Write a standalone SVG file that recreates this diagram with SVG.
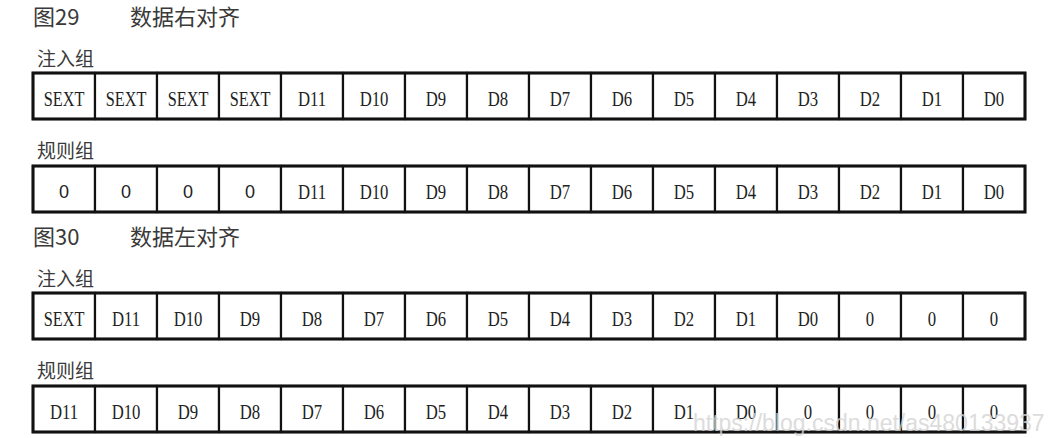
<svg xmlns="http://www.w3.org/2000/svg" width="1053" height="438" viewBox="0 0 1053 438">
<style>
.title{font-family:"Noto Sans CJK SC","Liberation Sans",sans-serif;font-size:22px;fill:#3a3a3a}
.grp{font-family:"Noto Sans CJK SC","Liberation Sans",sans-serif;font-size:19px;fill:#3a3a3a}
.cell{fill:#fff;stroke:#111;stroke-width:2.2}
.outer{fill:none;stroke:#111;stroke-width:3}
.t{font-family:"Liberation Serif",serif;font-size:22px;text-anchor:middle;fill:#222}
.s{font-family:"Liberation Sans",sans-serif;font-size:18px;text-anchor:middle;fill:#222}
.wm{font-family:"Liberation Sans",sans-serif;font-size:23px;fill:#d4d4d4;opacity:0.8}
</style>
<rect width="1053" height="438" fill="#fff"/>
<g id="fig29-title"><text class="title" x="33" y="25">图29</text><text class="title" x="130" y="25">数据右对齐</text></g>
<g id="fig29-inj-label"><text class="grp" x="37" y="66">注入组</text></g>
<g id="fig29-inj">
<rect class="cell" x="33" y="73" width="62" height="46"/><rect class="cell" x="95" y="73" width="62" height="46"/><rect class="cell" x="157" y="73" width="62" height="46"/><rect class="cell" x="219" y="73" width="62" height="46"/><rect class="cell" x="281" y="73" width="62" height="46"/><rect class="cell" x="343" y="73" width="62" height="46"/><rect class="cell" x="405" y="73" width="62" height="46"/><rect class="cell" x="467" y="73" width="62" height="46"/><rect class="cell" x="529" y="73" width="62" height="46"/><rect class="cell" x="591" y="73" width="62" height="46"/><rect class="cell" x="653" y="73" width="62" height="46"/><rect class="cell" x="715" y="73" width="62" height="46"/><rect class="cell" x="777" y="73" width="62" height="46"/><rect class="cell" x="839" y="73" width="62" height="46"/><rect class="cell" x="901" y="73" width="62" height="46"/><rect class="cell" x="963" y="73" width="62" height="46"/>
<rect class="outer" x="33" y="73" width="992" height="46"/>
<text class="t" transform="translate(64,106) scale(0.74,1)">SEXT</text>
<text class="t" transform="translate(126,106) scale(0.74,1)">SEXT</text>
<text class="t" transform="translate(188,106) scale(0.74,1)">SEXT</text>
<text class="t" transform="translate(250,106) scale(0.74,1)">SEXT</text>
<text class="t" transform="translate(312,106) scale(0.76,1)">D11</text>
<text class="t" transform="translate(374,106) scale(0.76,1)">D10</text>
<text class="t" transform="translate(436,106) scale(0.76,1)">D9</text>
<text class="t" transform="translate(498,106) scale(0.76,1)">D8</text>
<text class="t" transform="translate(560,106) scale(0.76,1)">D7</text>
<text class="t" transform="translate(622,106) scale(0.76,1)">D6</text>
<text class="t" transform="translate(684,106) scale(0.76,1)">D5</text>
<text class="t" transform="translate(746,106) scale(0.76,1)">D4</text>
<text class="t" transform="translate(808,106) scale(0.76,1)">D3</text>
<text class="t" transform="translate(870,106) scale(0.76,1)">D2</text>
<text class="t" transform="translate(932,106) scale(0.76,1)">D1</text>
<text class="t" transform="translate(994,106) scale(0.76,1)">D0</text>
</g>
<g id="fig29-reg-label"><text class="grp" x="37" y="158">规则组</text></g>
<g id="fig29-reg">
<rect class="cell" x="33" y="166" width="62" height="46"/><rect class="cell" x="95" y="166" width="62" height="46"/><rect class="cell" x="157" y="166" width="62" height="46"/><rect class="cell" x="219" y="166" width="62" height="46"/><rect class="cell" x="281" y="166" width="62" height="46"/><rect class="cell" x="343" y="166" width="62" height="46"/><rect class="cell" x="405" y="166" width="62" height="46"/><rect class="cell" x="467" y="166" width="62" height="46"/><rect class="cell" x="529" y="166" width="62" height="46"/><rect class="cell" x="591" y="166" width="62" height="46"/><rect class="cell" x="653" y="166" width="62" height="46"/><rect class="cell" x="715" y="166" width="62" height="46"/><rect class="cell" x="777" y="166" width="62" height="46"/><rect class="cell" x="839" y="166" width="62" height="46"/><rect class="cell" x="901" y="166" width="62" height="46"/><rect class="cell" x="963" y="166" width="62" height="46"/>
<rect class="outer" x="33" y="166" width="992" height="46"/>
<text class="s" x="64" y="198">0</text>
<text class="s" x="126" y="198">0</text>
<text class="s" x="188" y="198">0</text>
<text class="s" x="250" y="198">0</text>
<text class="t" transform="translate(312,199) scale(0.76,1)">D11</text>
<text class="t" transform="translate(374,199) scale(0.76,1)">D10</text>
<text class="t" transform="translate(436,199) scale(0.76,1)">D9</text>
<text class="t" transform="translate(498,199) scale(0.76,1)">D8</text>
<text class="t" transform="translate(560,199) scale(0.76,1)">D7</text>
<text class="t" transform="translate(622,199) scale(0.76,1)">D6</text>
<text class="t" transform="translate(684,199) scale(0.76,1)">D5</text>
<text class="t" transform="translate(746,199) scale(0.76,1)">D4</text>
<text class="t" transform="translate(808,199) scale(0.76,1)">D3</text>
<text class="t" transform="translate(870,199) scale(0.76,1)">D2</text>
<text class="t" transform="translate(932,199) scale(0.76,1)">D1</text>
<text class="t" transform="translate(994,199) scale(0.76,1)">D0</text>
</g>
<g id="fig30-title"><text class="title" x="33" y="245">图30</text><text class="title" x="130" y="245">数据左对齐</text></g>
<g id="fig30-inj-label"><text class="grp" x="37" y="286">注入组</text></g>
<g id="fig30-inj">
<rect class="cell" x="33" y="293" width="62" height="46"/><rect class="cell" x="95" y="293" width="62" height="46"/><rect class="cell" x="157" y="293" width="62" height="46"/><rect class="cell" x="219" y="293" width="62" height="46"/><rect class="cell" x="281" y="293" width="62" height="46"/><rect class="cell" x="343" y="293" width="62" height="46"/><rect class="cell" x="405" y="293" width="62" height="46"/><rect class="cell" x="467" y="293" width="62" height="46"/><rect class="cell" x="529" y="293" width="62" height="46"/><rect class="cell" x="591" y="293" width="62" height="46"/><rect class="cell" x="653" y="293" width="62" height="46"/><rect class="cell" x="715" y="293" width="62" height="46"/><rect class="cell" x="777" y="293" width="62" height="46"/><rect class="cell" x="839" y="293" width="62" height="46"/><rect class="cell" x="901" y="293" width="62" height="46"/><rect class="cell" x="963" y="293" width="62" height="46"/>
<rect class="outer" x="33" y="293" width="992" height="46"/>
<text class="t" transform="translate(64,326) scale(0.74,1)">SEXT</text>
<text class="t" transform="translate(126,326) scale(0.76,1)">D11</text>
<text class="t" transform="translate(188,326) scale(0.76,1)">D10</text>
<text class="t" transform="translate(250,326) scale(0.76,1)">D9</text>
<text class="t" transform="translate(312,326) scale(0.76,1)">D8</text>
<text class="t" transform="translate(374,326) scale(0.76,1)">D7</text>
<text class="t" transform="translate(436,326) scale(0.76,1)">D6</text>
<text class="t" transform="translate(498,326) scale(0.76,1)">D5</text>
<text class="t" transform="translate(560,326) scale(0.76,1)">D4</text>
<text class="t" transform="translate(622,326) scale(0.76,1)">D3</text>
<text class="t" transform="translate(684,326) scale(0.76,1)">D2</text>
<text class="t" transform="translate(746,326) scale(0.76,1)">D1</text>
<text class="t" transform="translate(808,326) scale(0.76,1)">D0</text>
<text class="t" transform="translate(870,326) scale(0.76,1)">0</text>
<text class="t" transform="translate(932,326) scale(0.76,1)">0</text>
<text class="t" transform="translate(994,326) scale(0.76,1)">0</text>
</g>
<g id="fig30-reg-label"><text class="grp" x="37" y="378">规则组</text></g>
<g id="fig30-reg">
<rect class="cell" x="33" y="386" width="62" height="46"/><rect class="cell" x="95" y="386" width="62" height="46"/><rect class="cell" x="157" y="386" width="62" height="46"/><rect class="cell" x="219" y="386" width="62" height="46"/><rect class="cell" x="281" y="386" width="62" height="46"/><rect class="cell" x="343" y="386" width="62" height="46"/><rect class="cell" x="405" y="386" width="62" height="46"/><rect class="cell" x="467" y="386" width="62" height="46"/><rect class="cell" x="529" y="386" width="62" height="46"/><rect class="cell" x="591" y="386" width="62" height="46"/><rect class="cell" x="653" y="386" width="62" height="46"/><rect class="cell" x="715" y="386" width="62" height="46"/><rect class="cell" x="777" y="386" width="62" height="46"/><rect class="cell" x="839" y="386" width="62" height="46"/><rect class="cell" x="901" y="386" width="62" height="46"/><rect class="cell" x="963" y="386" width="62" height="46"/>
<rect class="outer" x="33" y="386" width="992" height="46"/>
<text class="t" transform="translate(64,419) scale(0.76,1)">D11</text>
<text class="t" transform="translate(126,419) scale(0.76,1)">D10</text>
<text class="t" transform="translate(188,419) scale(0.76,1)">D9</text>
<text class="t" transform="translate(250,419) scale(0.76,1)">D8</text>
<text class="t" transform="translate(312,419) scale(0.76,1)">D7</text>
<text class="t" transform="translate(374,419) scale(0.76,1)">D6</text>
<text class="t" transform="translate(436,419) scale(0.76,1)">D5</text>
<text class="t" transform="translate(498,419) scale(0.76,1)">D4</text>
<text class="t" transform="translate(560,419) scale(0.76,1)">D3</text>
<text class="t" transform="translate(622,419) scale(0.76,1)">D2</text>
<text class="t" transform="translate(684,419) scale(0.76,1)">D1</text>
<text class="t" transform="translate(746,419) scale(0.76,1)">D0</text>
<text class="t" transform="translate(808,419) scale(0.76,1)">0</text>
<text class="t" transform="translate(870,419) scale(0.76,1)">0</text>
<text class="t" transform="translate(932,419) scale(0.76,1)">0</text>
<text class="t" transform="translate(994,419) scale(0.76,1)">0</text>
</g>
<g id="connectors"></g>
<text class="wm" x="693" y="431">https://blog.csdn.net/as480133937</text>
</svg>
